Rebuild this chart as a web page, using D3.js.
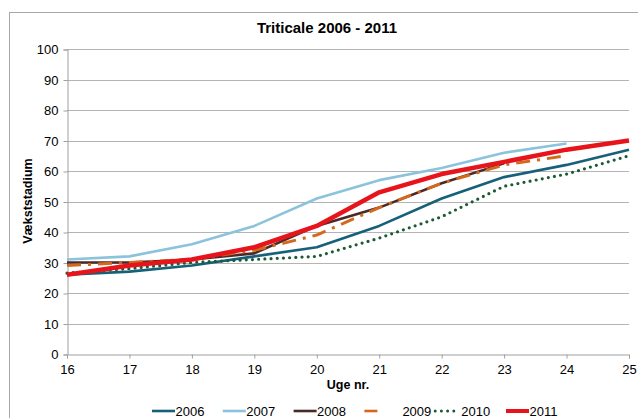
<!DOCTYPE html>
<html>
<head>
<meta charset="utf-8">
<script src="https://cdn.jsdelivr.net/npm/d3@7"></script>
<style>
  body { margin: 0; background: #fff; }
  svg { display: block; font-family: "Liberation Sans", Arial, sans-serif; }
</style>
</head>
<body>
<script>
// data
var weeks = [16, 17, 18, 19, 20, 21, 22, 23, 24, 25];
var yTicks = [0, 10, 20, 30, 40, 50, 60, 70, 80, 90, 100];

var years = ["2006", "2007", "2008", "2009", "2010", "2011"];
var v2006 = [26, 27, 29, 32, 35, 42, 51, 58, 62, 67];
var v2007 = [31, 32, 36, 42, 51, 57, 61, 66, 69];
var v2008 = [30, 30, 31, 33, 42, 48, 56, 62.5];
var v2009 = [29, 30, 31, 34, 39, 48, 56, 62, 65];
var v2010 = [26.5, 28, 30, 31, 32, 38, 45, 55, 59, 65];
var v2011 = [26, 29, 31, 35, 42, 53, 59, 63, 67, 70];

var seriesValues = [v2006, v2007, v2008, v2009, v2010, v2011];

// look of each line
var styles = {
    "2006": { color: "#17607a", width: 2.6, dash: null },
    "2007": { color: "#8cc3dc", width: 2.6, dash: null },
    "2008": { color: "#4a2a28", width: 2.6, dash: null },
    "2009": { color: "#d2691e", width: 3, dash: "14,7,3,7" },
    "2010": { color: "#1b5a35", width: 3.2, dash: "0,6.2" },
    "2011": { color: "#e8141c", width: 4.5, dash: null }
};

var width = 638;
var height = 418;

var svg = d3.select("body")
            .append("svg")
            .attr("width", width)
            .attr("height", height);

// outer chart frame
svg.append("rect")
   .attr("x", 9.5)
   .attr("y", 12.5)
   .attr("width", 660)
   .attr("height", 440)
   .attr("fill", "none")
   .attr("stroke", "#a8a8a8");

var x = d3.scaleLinear().domain([16, 25]).range([67, 629]);
var y = d3.scaleLinear().domain([0, 100]).range([354, 49]);

// gridlines
svg.append("g")
   .selectAll("line")
   .data(yTicks.filter(function(d) { return d > 0; }))
   .enter().append("line")
   .attr("x1", x(16))
   .attr("x2", x(25))
   .attr("y1", function(d) { return Math.round(y(d)) + 0.5; })
   .attr("y2", function(d) { return Math.round(y(d)) + 0.5; })
   .attr("stroke", "#b4b4b4")
   .attr("stroke-width", 1);

// y axis
var yAxis = svg.append("g")
               .attr("transform", "translate(" + (x(16) + 0.5) + ",0.5)")
               .call(d3.axisLeft(y).tickValues(yTicks).tickSize(4).tickPadding(5));

// x axis
var xAxis = svg.append("g")
               .attr("transform", "translate(0," + (Math.round(y(0)) + 0.5) + ")")
               .call(d3.axisBottom(x).tickValues(weeks).tickSize(4).tickPadding(6));

[yAxis, xAxis].forEach(function(ax) {
    ax.select(".domain").attr("stroke", "#a0a0a0");
    ax.selectAll(".tick line").attr("stroke", "#a0a0a0");
    ax.selectAll(".tick text")
      .attr("fill", "#000")
      .style("font-size", "13px")
      .style("font-family", "Liberation Sans, Arial, sans-serif");
});

// lines
var line = d3.line()
             .x(function(d, i) { return x(weeks[i]); })
             .y(function(d) { return y(d); });

years.forEach(function(yr, k) {
    var st = styles[yr];
    svg.append("path")
       .datum(seriesValues[k])
       .attr("d", line)
       .attr("fill", "none")
       .attr("stroke", st.color)
       .attr("stroke-width", st.width)
       .attr("stroke-linecap", yr == "2010" ? "round" : "butt")
       .attr("stroke-linejoin", "round")
       .attr("stroke-dasharray", st.dash);
});

// title
svg.append("text")
   .attr("x", 327)
   .attr("y", 33)
   .attr("text-anchor", "middle")
   .style("font-size", "15px")
   .style("font-weight", "bold")
   .text("Triticale 2006 - 2011");

// axis titles
svg.append("text")
   .attr("x", 348)
   .attr("y", 389)
   .attr("text-anchor", "middle")
   .style("font-size", "12.5px")
   .style("font-weight", "bold")
   .text("Uge nr.");

svg.append("text")
   .attr("transform", "translate(32,201) rotate(-90)")
   .attr("text-anchor", "middle")
   .style("font-size", "12.5px")
   .style("font-weight", "bold")
   .text("Vækststadium");

// legend
var legendX = 152;
var legendStep = 70.8;
var legendY = 411;

var legend = svg.append("g");

years.forEach(function(yr, k) {
    var st = styles[yr];
    var lx = legendX + k * legendStep;
    legend.append("line")
          .attr("x1", lx)
          .attr("x2", lx + 23)
          .attr("y1", legendY)
          .attr("y2", legendY)
          .attr("stroke", st.color)
          .attr("stroke-width", yr == "2011" ? 4 : (yr == "2010" ? 3 : 2.6))
          .attr("stroke-linecap", yr == "2010" ? "round" : "butt")
          .attr("stroke-dasharray", yr == "2009" ? "13,20" : st.dash);
    legend.append("text")
          .attr("x", lx + (yr == "2009" ? 38 : (yr == "2010" ? 26 : 23.5)))
          .attr("y", legendY + 5)
          .style("font-size", "13px")
          .text(yr);
});
</script>
</body>
</html>
